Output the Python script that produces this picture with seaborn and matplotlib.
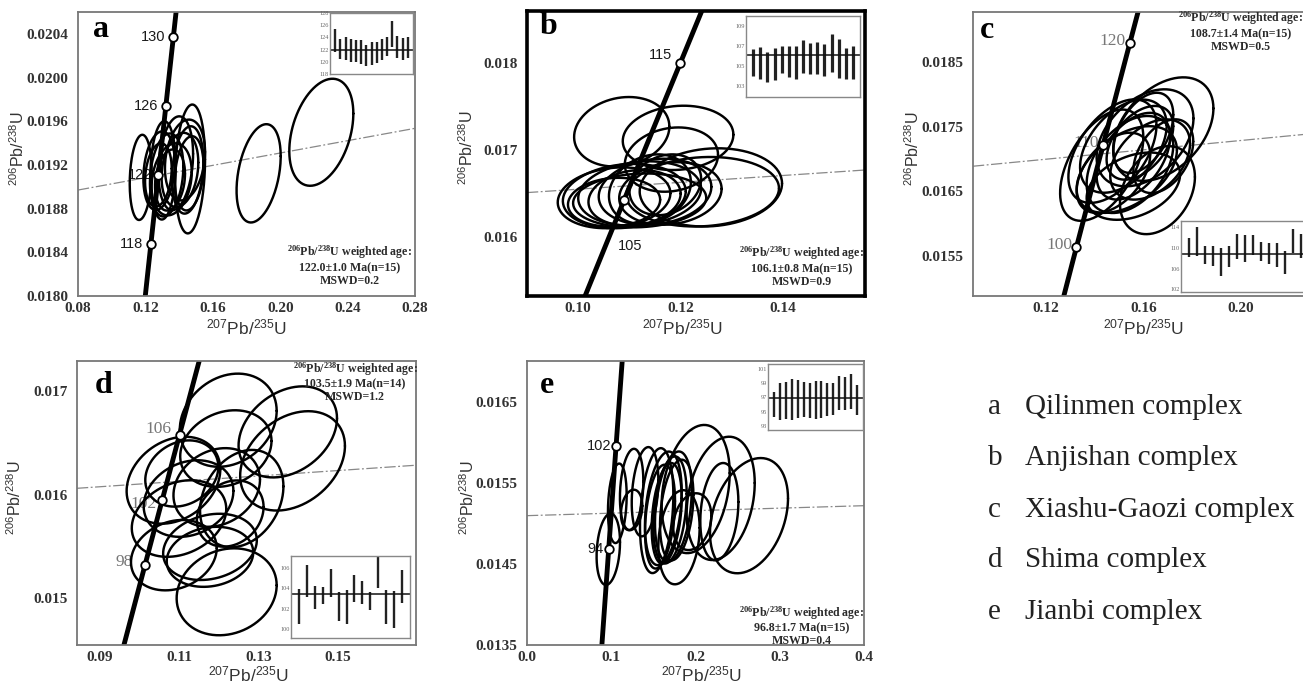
import numpy as np
import pandas as pd
import seaborn as sns
import matplotlib.pyplot as plt
from matplotlib.ticker import AutoMinorLocator, FormatStrFormatter

sns.set_theme(style="white")
plt.rcParams["font.family"] = ["Liberation Serif", "DejaVu Serif"]

W, H = 1303, 684

# U-Pb decay constants, per Ma
L238 = 1.55125e-4
L235 = 9.8485e-4

# ---------------- a: Qilinmen complex
a_cx = [0.1172, 0.1465, 0.1380, 0.1451, 0.1281, 0.1326, 0.1356, 0.1405, 0.1277,
        0.1435, 0.1346, 0.1460, 0.1305, 0.1872, 0.2244]
a_cy = [0.019086, 0.019163, 0.019215, 0.019154, 0.019147, 0.019108, 0.019068, 0.019154,
        0.019108, 0.019245, 0.019062, 0.019123, 0.019150, 0.019123, 0.019499]
a_sx = [0.0065, 0.0089, 0.0103, 0.0093, 0.0093, 0.0099, 0.0119, 0.0109, 0.0079,
        0.0119, 0.0089, 0.0085, 0.0075, 0.0131, 0.0190]
a_sy = [0.00039, 0.00059, 0.00043, 0.00040, 0.00036, 0.00038, 0.00033, 0.00034,
        0.00029, 0.00037, 0.00028, 0.00034, 0.00045, 0.00045, 0.00049]
a_rho = [0.15, 0.15, 0.2, 0.2, 0.2, 0.2, 0.2, 0.2, 0.2, 0.2, 0.2, 0.2, 0.1, 0.35, 0.35]
a_ages = [118, 122, 126, 130]
a_line_x = [0.08, 0.28]
a_line_y = [0.01897, 0.019535]
a_spot = [123.45, 122.1, 122.15, 121.85, 121.75, 121.65, 121.0, 121.35, 121.55, 122.0,
          122.45, 124.55, 122.45, 122.1, 122.3]
a_err = [1.85, 1.6, 1.85, 1.85, 1.75, 1.95, 1.7, 1.85, 1.75, 1.7, 1.55, 2.15, 1.85, 1.8, 1.7]
a_mean = 122.0
a_xticks = [0.08, 0.12, 0.16, 0.20, 0.24, 0.28]
a_yticks = [0.0180, 0.0184, 0.0188, 0.0192, 0.0196, 0.0200, 0.0204]
a_inset_ticks = [118, 120, 122, 124, 126, 128]

# ---------------- b: Anjishan complex
b_cx = [0.1085, 0.1195, 0.1182, 0.1259, 0.1243, 0.1070, 0.1090, 0.1070, 0.1120,
        0.1110, 0.1150, 0.1140, 0.1180, 0.1170, 0.1120]
b_cy = [0.01721, 0.01714, 0.01689, 0.01657, 0.01652, 0.01645, 0.01647, 0.01640,
        0.01650, 0.01645, 0.01652, 0.01655, 0.01650, 0.01660, 0.01642]
b_sx = [0.0093, 0.0108, 0.0091, 0.0139, 0.0149, 0.0110, 0.0120, 0.0090, 0.0120,
        0.0090, 0.0110, 0.0080, 0.0100, 0.0070, 0.0130]
b_sy = [0.00040, 0.00037, 0.00037, 0.00045, 0.00040, 0.00035, 0.00037, 0.00028,
        0.00037, 0.00032, 0.00038, 0.00040, 0.00036, 0.00035, 0.00031]
b_rho = [0.15, 0.1, 0.15, 0.1, 0.1, 0.15, 0.15, 0.1, 0.15, 0.15, 0.15, 0.2, 0.15, 0.2, 0.1]
b_ages = [105, 115]
b_line_x = [0.090, 0.156]
b_line_y = [0.01651, 0.01677]
b_spot = [105.35, 105.3, 104.9, 105.2, 105.65, 105.45, 105.35, 105.95, 105.75, 105.8,
          105.6, 106.3, 105.75, 105.25, 105.35]
b_err = [1.35, 1.6, 1.5, 1.6, 1.35, 1.55, 1.65, 1.65, 1.55, 1.6, 1.6, 1.9, 1.95, 1.55, 1.65]
b_mean = 106.1
b_xticks = [0.10, 0.12, 0.14]
b_yticks = [0.016, 0.017, 0.018]
b_inset_ticks = [103, 105, 107, 109]

# ---------------- c: Xiashu-Gaozi complex
c_cx = [0.1682, 0.1658, 0.1429, 0.1473, 0.1607, 0.1545, 0.1586, 0.1559, 0.1518,
        0.1628, 0.1477, 0.1682, 0.1559, 0.1600, 0.1532]
c_cy = [0.017460, 0.016516, 0.016902, 0.017119, 0.017325, 0.016913, 0.017248, 0.017041,
        0.017196, 0.016990, 0.016784, 0.017041, 0.016578, 0.017402, 0.016835]
c_sx = [0.0206, 0.0154, 0.0171, 0.0181, 0.0199, 0.0178, 0.0137, 0.0151, 0.0178,
        0.0164, 0.0151, 0.0123, 0.0192, 0.0123, 0.0206]
c_sy = [0.00080, 0.00068, 0.00086, 0.00080, 0.00075, 0.00075, 0.00057, 0.00067,
        0.00072, 0.00062, 0.00062, 0.00057, 0.00052, 0.00062, 0.00067]
c_rho = [0.4, 0.3, 0.5, 0.5, 0.4, 0.4, 0.45, 0.45, 0.45, 0.4, 0.45, 0.4, 0.35, 0.45, 0.45]
c_ages = [100, 110, 120]
c_xshift = 0.029
c_line_x = [0.090, 0.24]
c_line_y = [0.016886, 0.017428]
c_spot = [110.1, 111.15, 108.6, 108.4, 107.25, 108.3, 110.25, 109.85, 110.5, 109.3,
          108.9, 108.6, 107.15, 111.2, 110.4]
c_err = [1.8, 2.85, 1.7, 1.85, 2.65, 2.0, 2.45, 2.65, 2.0, 1.8, 2.0, 2.3, 2.15, 2.3, 2.3]
c_mean = 108.7
c_xticks = [0.12, 0.16, 0.20]
c_yticks = [0.0155, 0.0165, 0.0175, 0.0185]
c_inset_ticks = [102, 106, 110, 114]

# ---------------- d: Shima complex
d_cx = [0.1223, 0.1373, 0.1385, 0.1217, 0.1085, 0.1106, 0.1194, 0.1257, 0.1228,
        0.1099, 0.1086, 0.1177, 0.1177, 0.1219, 0.1123]
d_cy = [0.016718, 0.016605, 0.016325, 0.016444, 0.016138, 0.016203, 0.016068, 0.015961,
        0.015816, 0.015768, 0.015414, 0.015494, 0.015398, 0.015060, 0.015961]
d_sx = [0.0122, 0.0124, 0.0132, 0.0115, 0.0118, 0.0092, 0.0109, 0.0105, 0.0084,
        0.0119, 0.0108, 0.0118, 0.0109, 0.0126, 0.0113]
d_sy = [0.00045, 0.00044, 0.00048, 0.00037, 0.00042, 0.00032, 0.00038, 0.00047,
        0.00032, 0.00037, 0.00034, 0.00032, 0.00029, 0.00042, 0.00037]
d_rho = [0.2, 0.3, 0.3, 0.2, 0.25, 0.2, 0.2, 0.25, 0.2, 0.25, 0.2, 0.2, 0.15, 0.15, 0.2]
d_ages = [98, 102, 106]
d_line_x = [0.0842, 0.1696]
d_line_y = [0.01606, 0.016283]
d_spot = [102.25, 104.7, 103.1, 103.3, 104.5, 102.2, 102.2, 104.0, 103.6, 102.75,
          105.6, 102.2, 101.9, 104.2]
d_err = [1.7, 1.55, 1.1, 0.85, 1.4, 1.4, 1.65, 1.3, 1.1, 0.85, 1.55, 1.65, 1.8, 1.6]
d_mean = 103.4
d_xticks = [0.09, 0.11, 0.13, 0.15]
d_yticks = [0.015, 0.016, 0.017]
d_inset_ticks = [100, 102, 104, 106]

# ---------------- e: Jianbi complex
e_cx = [0.0965, 0.1072, 0.1242, 0.1242, 0.1401, 0.1539, 0.1618, 0.1697, 0.1737,
        0.1658, 0.1777, 0.1579, 0.2002, 0.2299, 0.2283, 0.2635, 0.1804, 0.1962]
e_cy = [0.014680, 0.015246, 0.015418, 0.015164, 0.015389, 0.015156, 0.015184, 0.015164,
        0.015205, 0.015123, 0.015164, 0.015082, 0.015422, 0.015307, 0.015143, 0.015094,
        0.014828, 0.015020]
e_sx = [0.0139, 0.0111, 0.0139, 0.0127, 0.0158, 0.0198, 0.0218, 0.0198, 0.0218,
        0.0178, 0.0198, 0.0178, 0.0404, 0.0404, 0.0226, 0.0463, 0.0245, 0.0226]
e_sy = [0.00044, 0.00049, 0.00050, 0.00025, 0.00055, 0.00077, 0.00070, 0.00066,
        0.00068, 0.00062, 0.00062, 0.00064, 0.00079, 0.00076, 0.00060, 0.00071,
        0.00058, 0.00035]
e_rho = [0.2, 0.2, 0.2, 0.2, 0.25, 0.25, 0.3, 0.3, 0.3, 0.3, 0.3, 0.3, 0.25, 0.25,
         0.2, 0.3, 0.2, 0.2]
e_ages = [94, 102]
e_line_x = [0.0, 0.4]
e_line_y = [0.015094, 0.015217]
e_spot = [96.0, 96.43, 96.57, 96.69, 96.74, 96.69, 96.6, 96.65, 96.7, 96.67, 96.78,
          97.6, 97.55, 97.8, 96.6]
e_err = [1.77, 2.63, 2.63, 2.89, 2.7, 2.42, 2.47, 2.65, 2.6, 2.3, 2.28, 2.4, 2.35, 2.5, 2.1]
e_mean = 96.9
e_xticks = [0.0, 0.1, 0.2, 0.3, 0.4]
e_yticks = [0.0135, 0.0145, 0.0155, 0.0165]
e_inset_ticks = [93, 95, 97, 99, 101]

complex_letters = ["a", "b", "c", "d", "e"]
complex_names = ["Qilinmen complex", "Anjishan complex", "Xiashu-Gaozi complex",
                 "Shima complex", "Jianbi complex"]

age_text = {
    "a": "122.0\u00b11.0 Ma(n=15)\nMSWD=0.2",
    "b": "106.1\u00b10.8 Ma(n=15)\nMSWD=0.9",
    "c": "108.7\u00b11.4 Ma(n=15)\nMSWD=0.5",
    "d": "103.5\u00b11.9 Ma(n=14)\nMSWD=1.2",
    "e": "96.8\u00b11.7 Ma(n=15)\nMSWD=0.4",
}


def ellipses(cx, cy, sx, sy, rho, n=160):
    t = np.linspace(0, 2 * np.pi, n)
    parts = []
    for i, (x0, y0, a, b, r) in enumerate(zip(cx, cy, sx, sy, rho)):
        parts.append(pd.DataFrame({
            "id": i,
            "x": x0 + a * np.cos(t),
            "y": y0 + b * (r * np.cos(t) + np.sqrt(1 - r * r) * np.sin(t)),
        }))
    return pd.concat(parts, ignore_index=True)


fig = plt.figure(figsize=(W / 100, H / 100), dpi=100)


def px_axes(l, r, t, b):
    return fig.add_axes([l / W, 1 - b / H, (r - l) / W, (b - t) / H])


panels = [
    dict(key="a", box=(78, 415, 12, 296), xlim=(0.08, 0.28), ylim=(0.0180, 0.0206),
         xt=a_xticks, yt=a_yticks, xf="%.2f", yf="%.4f",
         el=(a_cx, a_cy, a_sx, a_sy, a_rho), ages=a_ages, shift=0.0,
         line=(a_line_x, a_line_y), thick=False,
         lab_style="sans", lab_off={118: (-8, 0), 122: (-6, 0), 126: (-8, 0), 130: (-8, 0)},
         txt_pos=(0.807, 0.109), letter_pos=(0.045, 0.94), xl_x=0.5, yl_x=-0.178, xl_y=-0.112,
         inset=(330, 413, 13, 74), spot=a_spot, err=a_err, mean=a_mean, bar_lw=1.7,
         ilim=(118, 128), itick=a_inset_ticks),
    dict(key="b", box=(527, 865, 11, 296), xlim=(0.090, 0.156), ylim=(0.01532, 0.0186),
         xt=b_xticks, yt=b_yticks, xf="%.2f", yf="%.3f",
         el=(b_cx, b_cy, b_sx, b_sy, b_rho), ages=b_ages, shift=0.0,
         line=(b_line_x, b_line_y), thick=True,
         lab_style="sans", lab_off={105: (6, -46), 115: (-8, 8)},
         txt_pos=(0.813, 0.105), letter_pos=(0.038, 0.945), xl_x=0.459, yl_x=-0.18, xl_y=-0.112,
         inset=(746, 860, 16, 97), spot=b_spot, err=b_err, mean=b_mean, bar_lw=2.3,
         ilim=(101.9, 110.0), itick=b_inset_ticks),
    dict(key="c", box=(973, 1338, 12, 296), xlim=(0.090, 0.24), ylim=(0.01488, 0.01927),
         xt=c_xticks, yt=c_yticks, xf="%.2f", yf="%.4f",
         el=(c_cx, c_cy, c_sx, c_sy, c_rho), ages=c_ages, shift=c_xshift,
         line=(c_line_x, c_line_y), thick=False,
         lab_style="serif", lab_off={100: (-4, 2), 110: (-4, 2), 120: (-4, 2)},
         txt_pos=(0.733, 0.931), letter_pos=(0.019, 0.934), xl_x=0.466, yl_x=-0.164, xl_y=-0.112,
         inset=(1181, 1309, 221, 292), spot=c_spot, err=c_err, mean=c_mean, bar_lw=1.7,
         ilim=(101.5, 115.1), itick=c_inset_ticks),
    dict(key="d", box=(77, 416, 361, 645), xlim=(0.0842, 0.1696), ylim=(0.014546, 0.01729),
         xt=d_xticks, yt=d_yticks, xf="%.2f", yf="%.3f",
         el=(d_cx, d_cy, d_sx, d_sy, d_rho), ages=d_ages, shift=0.0,
         line=(d_line_x, d_line_y), thick=False,
         lab_style="serif", lab_off={98: (-12, 3), 102: (-6, -4), 106: (-8, 6)},
         txt_pos=(0.82, 0.927), letter_pos=(0.053, 0.915), xl_x=0.506, yl_x=-0.183, xl_y=-0.105,
         inset=(291, 410, 556, 638), spot=d_spot, err=d_err, mean=d_mean, bar_lw=1.7,
         ilim=(99.15, 107.14), itick=d_inset_ticks),
    dict(key="e", box=(527, 864, 361, 645), xlim=(0.0, 0.4), ylim=(0.0135, 0.0170),
         xt=e_xticks, yt=e_yticks, xf="%.1f", yf="%.4f",
         el=(e_cx, e_cy, e_sx, e_sy, e_rho), ages=e_ages, shift=0.0,
         line=(e_line_x, e_line_y), thick=False,
         lab_style="sans", lab_off={94: (-5, 0), 102: (-5, 0)},
         txt_pos=(0.815, 0.068), letter_pos=(0.039, 0.912), xl_x=0.519, yl_x=-0.176, xl_y=-0.105,
         inset=(768, 863, 364, 430), spot=e_spot, err=e_err, mean=e_mean, bar_lw=1.7,
         ilim=(92.4, 101.7), itick=e_inset_ticks),
]

sup = lambda s: r"$\mathregular{^{%s}}$" % s
xlab = sup("207") + "Pb/" + sup("235") + "U"
ylab = sup("206") + "Pb/" + sup("238") + "U"

t_grid = np.linspace(0, 300, 601)

for p in panels:
    ax = px_axes(*p["box"])
    # discordia-style reference line
    sns.lineplot(x=p["line"][0], y=p["line"][1], color="#888888", lw=0.9,
                 linestyle=(0, (9, 2, 1.5, 2)), sort=False, estimator=None, ax=ax, zorder=1)
    # concordia
    cx = np.exp(L235 * t_grid) - 1 + p["shift"]
    cy = np.exp(L238 * t_grid) - 1
    sns.lineplot(x=cx, y=cy, color="black", lw=3.5, sort=False, estimator=None, ax=ax, zorder=2)
    # error ellipses
    df = ellipses(*p["el"])
    sns.lineplot(data=df, x="x", y="y", units="id", estimator=None, sort=False,
                 color="black", lw=1.75, ax=ax, legend=False, zorder=3)
    # age markers
    ages = np.array(p["ages"], dtype=float)
    mx = np.exp(L235 * ages) - 1 + p["shift"]
    my = np.exp(L238 * ages) - 1
    sns.scatterplot(x=mx, y=my, s=38, color="white", edgecolor="black", linewidth=1.3,
                    ax=ax, zorder=5)
    for age, x0, y0 in zip(p["ages"], mx, my):
        dx, dy = p["lab_off"][age]
        if p["lab_style"] == "sans":
            kw = dict(family=["Liberation Sans"], fontsize=10.5, color="#1a1a1a")
        else:
            kw = dict(family=["Liberation Serif"], fontsize=12.5, color="#777777")
        ha = "center" if dx > 0 else "right"
        ax.annotate(str(age), xy=(x0, y0), xytext=(dx, dy), textcoords="offset pixels",
                    ha=ha, va="center", zorder=2.5, **kw)

    ax.set_xlim(*p["xlim"])
    ax.set_ylim(*p["ylim"])
    ax.set_xticks(p["xt"])
    ax.set_yticks(p["yt"])
    ax.xaxis.set_minor_locator(AutoMinorLocator(2))
    ax.yaxis.set_minor_locator(AutoMinorLocator(2))
    ax.xaxis.set_major_formatter(FormatStrFormatter(p["xf"]))
    ax.yaxis.set_major_formatter(FormatStrFormatter(p["yf"]))
    ax.set_xlabel("")
    ax.set_ylabel("")
    ax.tick_params(axis="x", which="major", direction="in", length=5, width=1, colors="#555555",
                   labelcolor="#333333", labelsize=11, pad=4)
    ax.tick_params(axis="y", which="major", direction="out", length=5, width=1, colors="#555555",
                   labelcolor="#333333", labelsize=11, pad=2)
    ax.tick_params(which="minor", direction="in", length=3, width=0.9, colors="#555555")
    for lbl in ax.get_xticklabels() + ax.get_yticklabels():
        lbl.set_fontweight("bold")
    for sp in ax.spines.values():
        sp.set_color("black" if p["thick"] else "#777777")
        sp.set_linewidth(2.6 if p["thick"] else 1.3)

    ax.text(p["xl_x"], p["xl_y"], xlab, transform=ax.transAxes, ha="center", va="center",
            family=["Liberation Sans"], fontsize=12.5, color="#333333")
    ax.text(p["yl_x"], 0.52, ylab, transform=ax.transAxes, ha="center", va="center",
            rotation=90, family=["Liberation Sans"], fontsize=11.5, color="#333333")
    ax.text(*p["letter_pos"], p["key"], transform=ax.transAxes, ha="left", va="center",
            fontsize=23, fontweight="bold", color="black")
    ax.text(*p["txt_pos"], sup("206") + "Pb/" + sup("238") + "U weighted age:\n" + age_text[p["key"]],
            transform=ax.transAxes, ha="center", va="center", fontsize=8.6, fontweight="bold",
            color="#2a2a2a", linespacing=1.1, zorder=6)

    # inset: individual spot ages
    ai = px_axes(*p["inset"])
    idx = np.arange(1, len(p["spot"]) + 1)
    spot = np.array(p["spot"])
    err = np.array(p["err"])
    ai.vlines(idx, spot - err, spot + err, color="#222222", lw=p["bar_lw"])
    ai.axhline(p["mean"], color="#111111", lw=1.1)
    ai.set_xlim(0, len(idx) + 1)
    ai.set_ylim(*p["ilim"])
    ai.set_xticks([])
    ai.set_yticks(p["itick"])
    ai.tick_params(axis="y", direction="in", length=2, width=0.6, labelsize=4.5,
                   colors="#666666", pad=1)
    ai.set_facecolor("white")
    for sp in ai.spines.values():
        sp.set_color("#888888")
        sp.set_linewidth(1.0)

# complex legend on the right
rows_y = [407, 458, 510, 560, 612]
for letter, name, yy in zip(complex_letters, complex_names, rows_y):
    fig.text(988 / W, 1 - yy / H, letter, fontsize=21, color="#222222", va="center", ha="left")
    fig.text(1025 / W, 1 - yy / H, name, fontsize=21, color="#222222", va="center", ha="left")

fig.savefig("out.png", dpi=100, facecolor="white")
